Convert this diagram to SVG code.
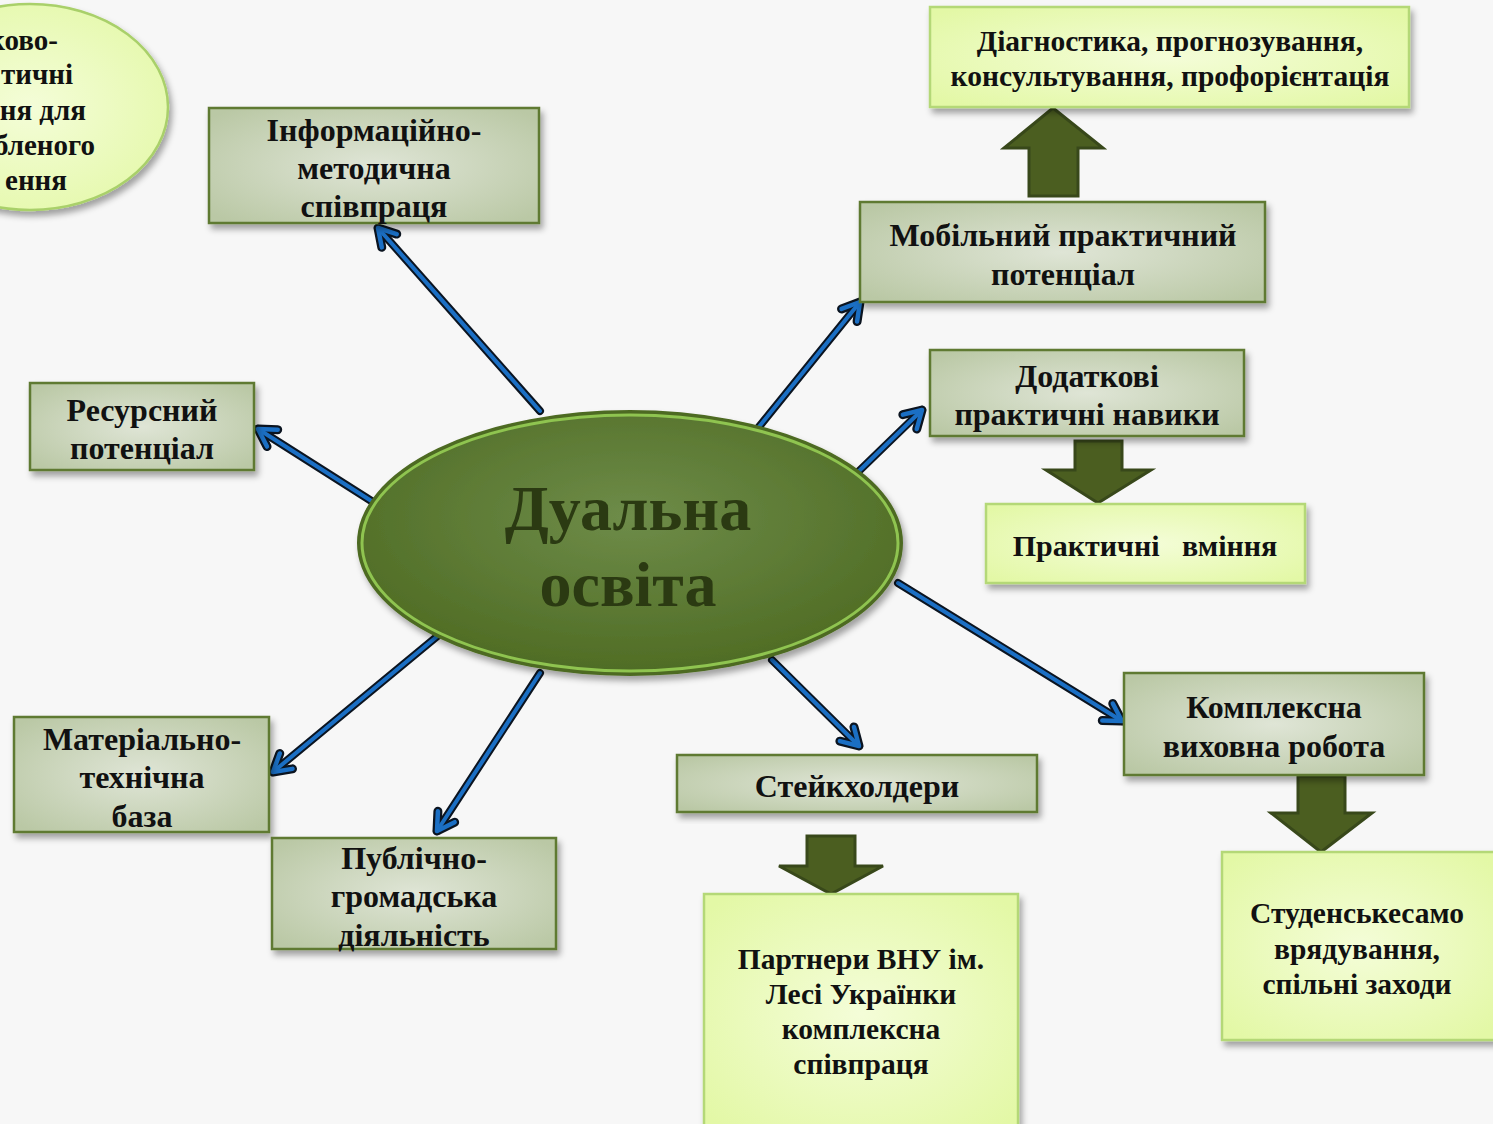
<svg xmlns="http://www.w3.org/2000/svg" width="1493" height="1124" viewBox="0 0 1493 1124">
<defs>
<style>
.t{font-family:"Liberation Serif","Times New Roman",serif;font-weight:bold;fill:#111;text-anchor:middle}
.g{stroke:#5e7a30;stroke-width:2.5;fill:url(#gg)}
.l{stroke:#b4d877;stroke-width:2.5;fill:url(#lg)}
.big{fill:#4b5e20;stroke:#38481a;stroke-width:3;stroke-linejoin:miter}
.ol{stroke:#0b1420;stroke-width:8;stroke-linecap:round;fill:none;marker-end:url(#mo)}
.bl{stroke:#1b6fc4;stroke-width:4;stroke-linecap:round;fill:none;marker-end:url(#mb)}
</style>
<radialGradient id="gg" cx="50%" cy="50%" r="65%">
<stop offset="0" stop-color="#dfe5d6"/><stop offset="1" stop-color="#bac8a5"/>
</radialGradient>
<radialGradient id="lg" cx="50%" cy="50%" r="65%">
<stop offset="0" stop-color="#f4fdd8"/><stop offset="1" stop-color="#e3f8a6"/>
</radialGradient>
<radialGradient id="cg" cx="50%" cy="40%" r="60%">
<stop offset="0" stop-color="#6e8c49"/><stop offset="1" stop-color="#4f6c24"/>
</radialGradient>
<filter id="sh" x="-10%" y="-10%" width="125%" height="130%">
<feDropShadow dx="3" dy="5" stdDeviation="3" flood-color="#000" flood-opacity="0.35"/>
</filter>
<marker id="mo" viewBox="-24 -16 30 32" markerWidth="30" markerHeight="32" refX="0" refY="0" orient="auto" markerUnits="userSpaceOnUse" overflow="visible">
<path d="M -17 -10 L 0 0 L -17 10" fill="none" stroke="#0b1420" stroke-width="9" stroke-linecap="round" stroke-linejoin="round"/>
</marker>
<marker id="mb" viewBox="-24 -16 30 32" markerWidth="30" markerHeight="32" refX="0" refY="0" orient="auto" markerUnits="userSpaceOnUse" overflow="visible">
<path d="M -17 -10 L 0 0 L -17 10" fill="none" stroke="#1b6fc4" stroke-width="4.5" stroke-linecap="round" stroke-linejoin="round"/>
</marker>
</defs>
<rect width="1493" height="1124" fill="#f7f7f7"/>

<g id="connectors">
<path class="ol" d="M540 411 L378 228"/><path class="bl" d="M540 411 L378 228"/>
<path class="ol" d="M373 502 L258 429"/><path class="bl" d="M373 502 L258 429"/>
<path class="ol" d="M440 634 L273 772"/><path class="bl" d="M440 634 L273 772"/>
<path class="ol" d="M540 673 L437 831"/><path class="bl" d="M540 673 L437 831"/>
<path class="ol" d="M772 660 L859 746"/><path class="bl" d="M772 660 L859 746"/>
<path class="ol" d="M898 583 L1122 721"/><path class="bl" d="M898 583 L1122 721"/>
<path class="ol" d="M758 428 L860 302"/><path class="bl" d="M758 428 L860 302"/>
<path class="ol" d="M858 472 L922 410"/><path class="bl" d="M858 472 L922 410"/>
<path class="big" d="M1029 196 L1029 148 L1004 148 L1053 108 L1103 148 L1078 148 L1078 196 Z"/>
<path class="big" d="M1075 441 L1122 441 L1122 470 L1151 470 L1098 503 L1046 470 L1075 470 Z"/>
<path class="big" d="M807 836 L855 836 L855 866 L883 866 L831 894 L779 866 L807 866 Z"/>
<path class="big" d="M1298 776 L1345 776 L1345 813 L1372 813 L1321 852 L1271 813 L1298 813 Z"/>
</g>

<g id="n-topleft">
<ellipse cx="30" cy="107" rx="138" ry="103" fill="url(#lg)" stroke="#a9d06a" stroke-width="2.5" filter="url(#sh)"/>
<text class="t" font-size="29" style="text-anchor:end"><tspan x="58" y="50">ково-</tspan><tspan x="73" y="84">тичні</tspan><tspan x="86" y="120">ня для</tspan><tspan x="95" y="155">бленого</tspan><tspan x="67" y="190">ення</tspan></text>
</g>

<g id="n-info">
<rect class="g" x="209" y="108" width="330" height="115" filter="url(#sh)"/>
<text class="t" font-size="32"><tspan x="374" y="141">Інформаційно-</tspan><tspan x="374" y="179">методична</tspan><tspan x="374" y="217">співпраця</tspan></text>
</g>

<g id="n-resource">
<rect class="g" x="30" y="383" width="224" height="87" filter="url(#sh)"/>
<text class="t" font-size="32"><tspan x="142" y="421">Ресурсний</tspan><tspan x="142" y="459">потенціал</tspan></text>
</g>

<g id="n-material">
<rect class="g" x="14" y="717" width="255" height="115" filter="url(#sh)"/>
<text class="t" font-size="32"><tspan x="142" y="750">Матеріально-</tspan><tspan x="142" y="788">технічна</tspan><tspan x="142" y="827">база</tspan></text>
</g>

<g id="n-public">
<rect class="g" x="272" y="838" width="284" height="111" filter="url(#sh)"/>
<text class="t" font-size="32"><tspan x="414" y="869">Публічно-</tspan><tspan x="414" y="907">громадська</tspan><tspan x="414" y="946">діяльність</tspan></text>
</g>

<g id="n-stake">
<rect class="g" x="677" y="755" width="360" height="57" filter="url(#sh)"/>
<text class="t" font-size="32" x="857" y="797">Стейкхолдери</text>
</g>

<g id="n-complex">
<rect class="g" x="1124" y="673" width="300" height="102" filter="url(#sh)"/>
<text class="t" font-size="32"><tspan x="1274" y="718">Комплексна</tspan><tspan x="1274" y="757">виховна робота</tspan></text>
</g>

<g id="n-mobile">
<rect class="g" x="860" y="202" width="405" height="100" filter="url(#sh)"/>
<text class="t" font-size="32"><tspan x="1063" y="246">Мобільний практичний</tspan><tspan x="1063" y="285">потенціал</tspan></text>
</g>

<g id="n-additional">
<rect class="g" x="930" y="350" width="314" height="86" filter="url(#sh)"/>
<text class="t" font-size="32"><tspan x="1087" y="387">Додаткові</tspan><tspan x="1087" y="425">практичні навики</tspan></text>
</g>

<g id="n-diag">
<rect class="l" x="930" y="7" width="479" height="100" filter="url(#sh)"/>
<text class="t" font-size="29.5"><tspan x="1170" y="51">Діагностика, прогнозування,</tspan><tspan x="1170" y="86">консультування, профорієнтація</tspan></text>
</g>

<g id="n-practical">
<rect class="l" x="986" y="504" width="319" height="79" filter="url(#sh)"/>
<text class="t" font-size="30" x="1145" y="556" xml:space="preserve">Практичні   вміння</text>
</g>

<g id="n-partners">
<rect class="l" x="704" y="894" width="314" height="240" filter="url(#sh)"/>
<text class="t" font-size="29.5"><tspan x="861" y="969">Партнери ВНУ ім.</tspan><tspan x="861" y="1004">Лесі Українки</tspan><tspan x="861" y="1039">комплексна</tspan><tspan x="861" y="1074">співпраця</tspan></text>
</g>

<g id="n-student">
<rect class="l" x="1222" y="852" width="275" height="188" filter="url(#sh)"/>
<text class="t" font-size="29.5"><tspan x="1357" y="923">Студенськесамо</tspan><tspan x="1357" y="959">врядування,</tspan><tspan x="1357" y="994">спільні заходи</tspan></text>
</g>

<g id="n-center">
<ellipse cx="630" cy="543" rx="270" ry="130" fill="url(#cg)" stroke="#4d6a22" stroke-width="6" filter="url(#sh)"/>
<ellipse cx="630" cy="543" rx="268" ry="128" fill="none" stroke="#8fc450" stroke-width="3"/>
<text class="t" font-size="64" style="fill:#2b3a12"><tspan x="628" y="530">Дуальна</tspan><tspan x="628" y="606">освіта</tspan></text>
</g>
</svg>
